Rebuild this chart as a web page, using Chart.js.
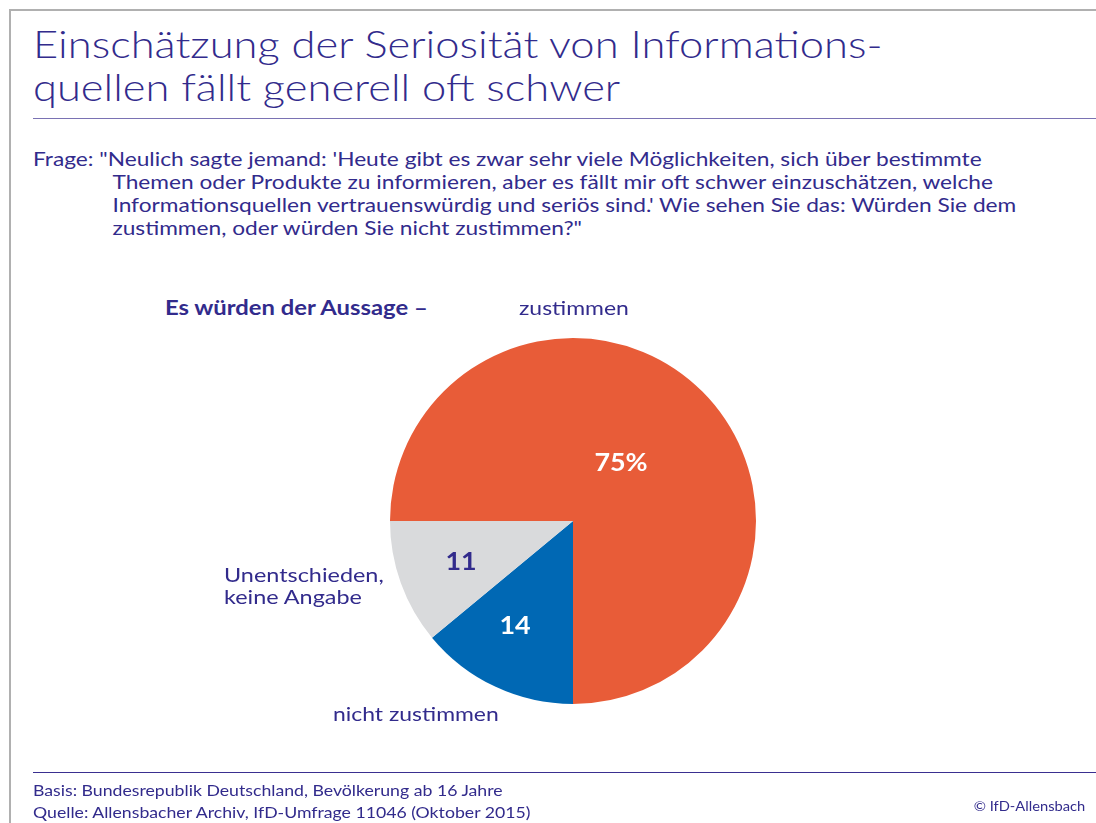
<!DOCTYPE html>
<html>
<head>
<meta charset="utf-8">
<script src="https://cdn.jsdelivr.net/npm/chart.js@4"></script>
<style>
  html,body{margin:0;padding:0;background:#fff;}
  body{width:1096px;height:823px;position:relative;overflow:hidden;font-family:Lato,"Noto Sans",sans-serif;color:#322b8c;}
  .frame{position:absolute;left:9px;top:9px;width:1100px;height:830px;border-left:2px solid #b0b0b0;border-top:2px solid #b0b0b0;}
  .t{position:absolute;white-space:nowrap;transform-origin:left top;}
  #title{left:33px;top:22px;font-size:38px;line-height:43px;font-weight:300;transform:scaleX(1.145);}
  .rule{position:absolute;left:33px;right:0;height:1px;}
  #q{left:33px;top:147px;font-size:20px;line-height:23px;transform:scaleX(1.135);}
  #q .ind{padding-left:70px;}
  #c{position:absolute;left:0;top:0;}
</style>
</head>
<body>
<div class="frame"></div>
<div class="t" id="title">Einschätzung der Seriosität von Informations-<br>quellen fällt generell oft schwer</div>
<div class="rule" style="top:118px;background:#7a72b3;"></div>
<div class="t" id="q">Frage: "Neulich sagte jemand: 'Heute gibt es zwar sehr viele Möglichkeiten, sich über bestimmte<br><span class="ind">Themen oder Produkte zu informieren, aber es fällt mir oft schwer einzuschätzen, welche</span><br><span class="ind">Informationsquellen vertrauenswürdig und seriös sind.' Wie sehen Sie das: Würden Sie dem</span><br><span class="ind">zustimmen, oder würden Sie nicht zustimmen?"</span></div>
<div class="t" style="left:165px;top:295px;font-size:20px;font-weight:bold;transform:scaleX(1.19);">Es würden der Aussage –</div>
<canvas id="c" width="1096" height="823"></canvas>
<div class="t" id="l0" style="left:519px;top:295px;font-size:20px;transform:scaleX(1.147);"></div>
<div class="t" id="l2" style="left:224px;top:563px;font-size:20px;line-height:22px;transform:scaleX(1.17);"></div>
<div class="t" id="l1" style="left:333px;top:701px;font-size:20px;transform:scaleX(1.146);"></div>
<div class="rule" style="top:772px;background:#3a2f90;"></div>
<div class="t" style="left:33px;top:779px;font-size:16px;line-height:22px;transform:scaleX(1.105);">Basis: Bundesrepublik Deutschland, Bevölkerung ab 16 Jahre<br>Quelle: Allensbacher Archiv, IfD-Umfrage 11046 (Oktober 2015)</div>
<div class="t" style="right:11px;top:797px;font-size:14px;transform-origin:right top;transform:scaleX(1.05);">© IfD-Allensbach</div>
<script>
const categories = ['zustimmen', 'nicht zustimmen', 'Unentschieden,\nkeine Angabe'];
const values = [75, 14, 11];
const valueLabels = ['75%', '14', '11'];
const colors = ['#e85c38', '#0068b4', '#d9dadc'];
const labelColors = ['#ffffff', '#ffffff', '#322b8c'];

document.getElementById('l0').textContent = categories[0];
document.getElementById('l1').textContent = categories[1];
document.getElementById('l2').innerHTML = categories[2].replace('\n', '<br>');

// numbers inside the slices
const sliceText = {
  id: 'sliceText',
  afterDatasetsDraw(chart) {
    const ctx = chart.ctx;
    const arcs = chart.getDatasetMeta(0).data;
    const shift = [[48, -58], [-58, 105], [-112, 41]]; // offsets from centre, px
    ctx.save();
    ctx.font = 'bold 24px Lato, "Noto Sans", sans-serif';
    ctx.textAlign = 'center';
    ctx.textBaseline = 'middle';
    arcs.forEach((a, i) => {
      ctx.fillStyle = labelColors[i];
      ctx.save();
      ctx.translate(a.x + shift[i][0], a.y + shift[i][1]);
      ctx.scale(1.12, 1);
      ctx.fillText(valueLabels[i], 0, 0);
      ctx.restore();
    });
    ctx.restore();
  }
};

new Chart(document.getElementById('c'), {
  type: 'pie',
  data: { labels: categories, datasets: [{ data: values, backgroundColor: colors, borderWidth: 0, hoverOffset: 0 }] },
  options: {
    responsive: false,
    animation: false,
    rotation: 270,
    layout: { padding: { left: 390, right: 340, top: 338, bottom: 119 } },
    plugins: { legend: { display: false }, tooltip: { enabled: false } }
  },
  plugins: [sliceText]
});
</script>
</body>
</html>
